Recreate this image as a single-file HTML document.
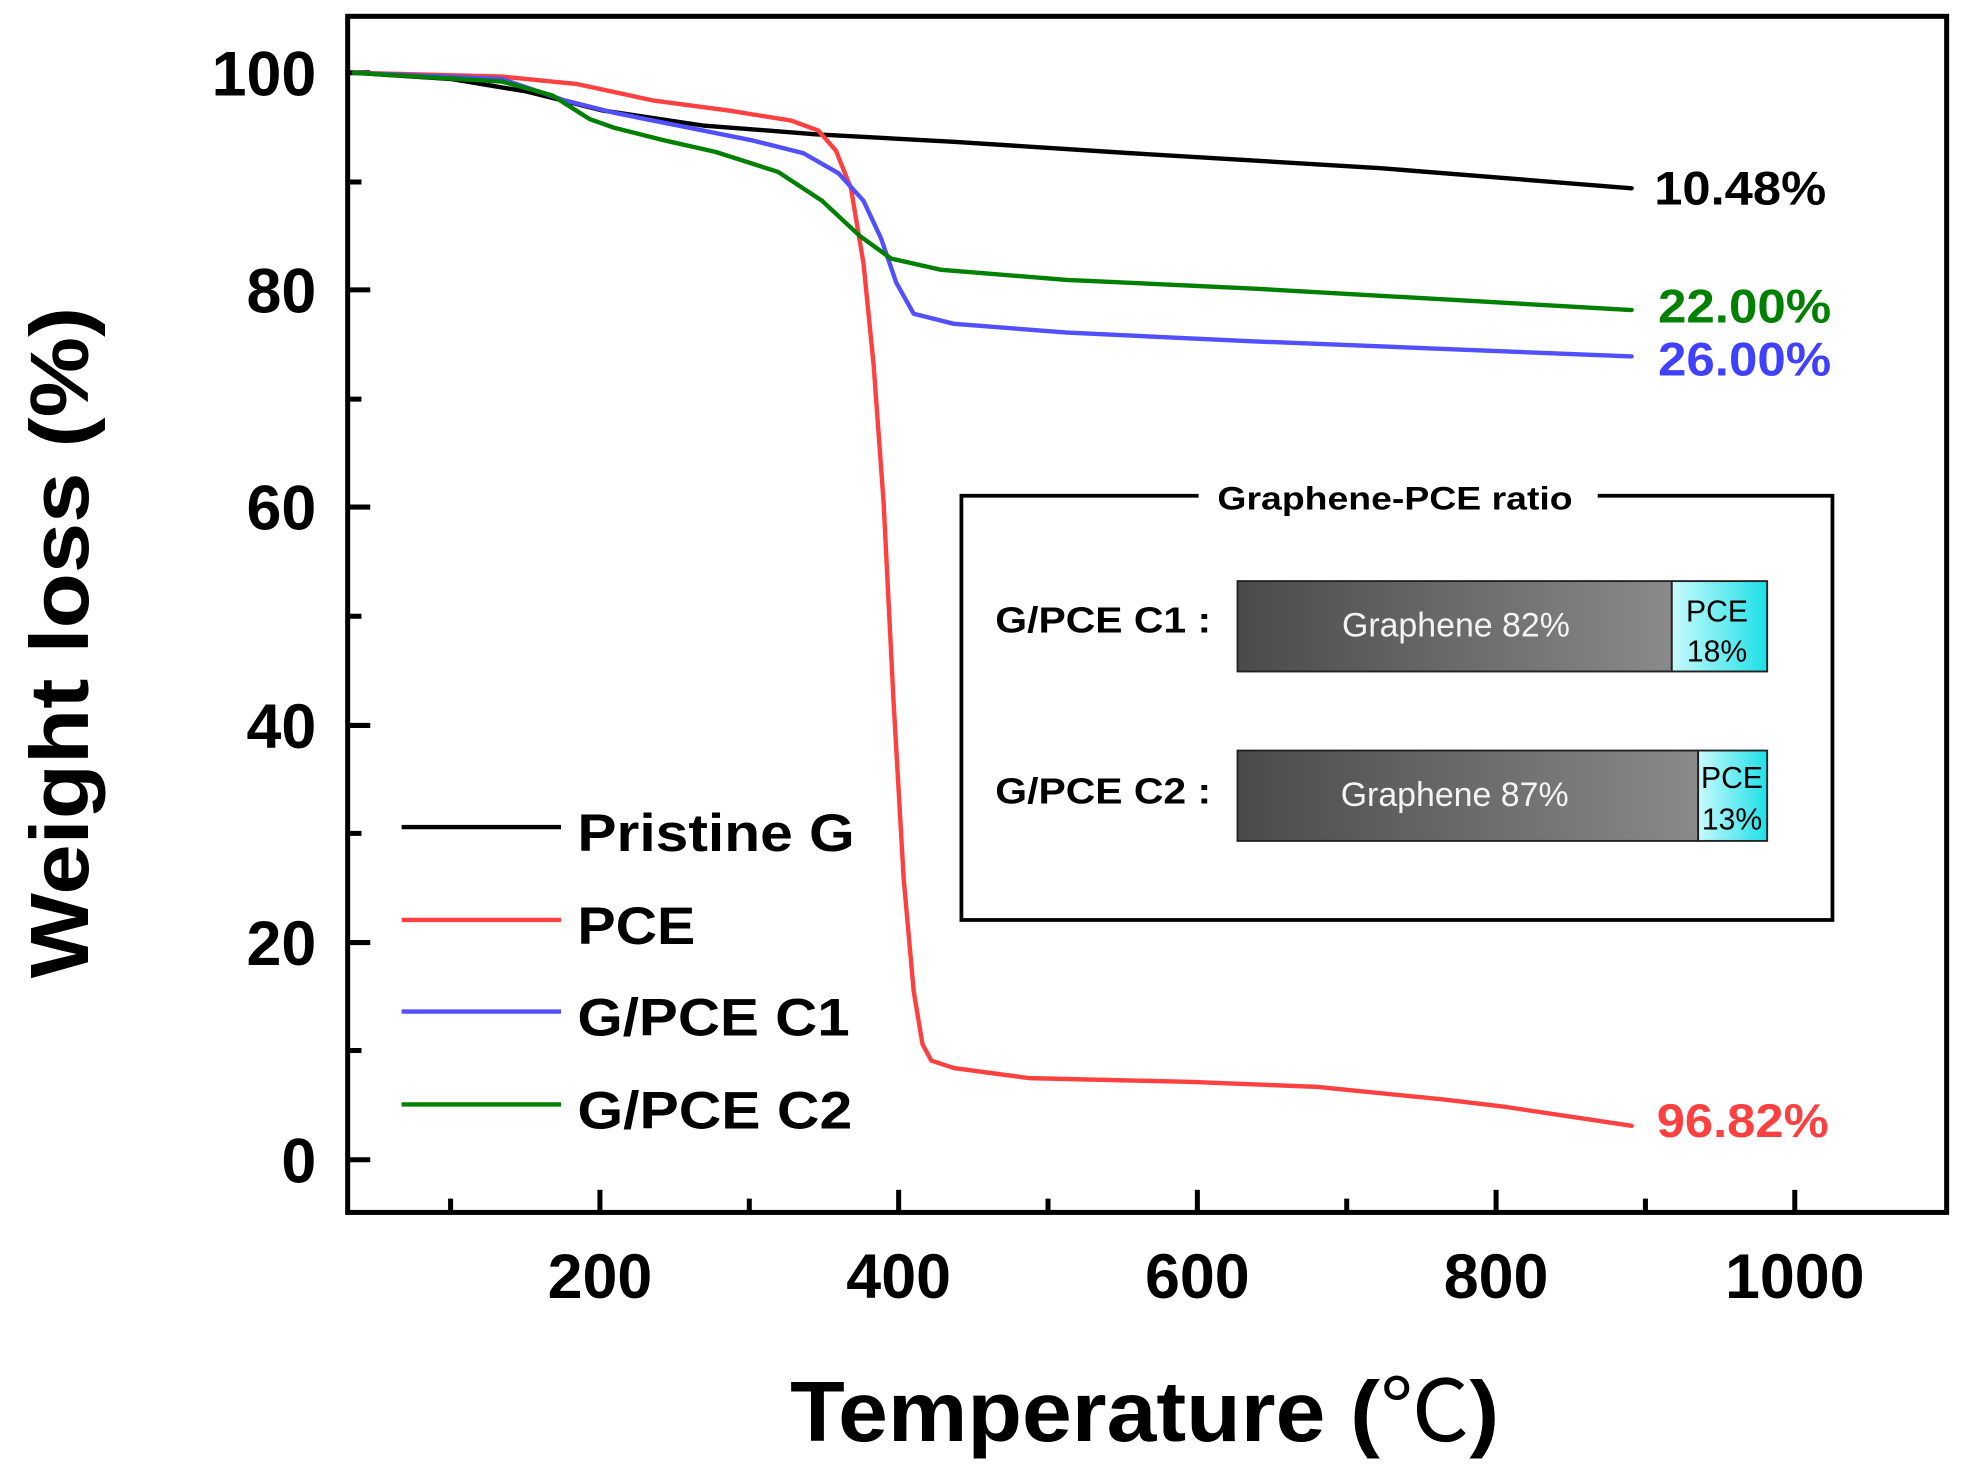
<!DOCTYPE html>
<html><head><meta charset="utf-8"><style>html,body{margin:0;padding:0;background:#fff}svg{display:block}</style></head><body>
<svg width="1968" height="1480" viewBox="0 0 1568 1179.2" xmlns="http://www.w3.org/2000/svg" font-family="'Liberation Sans', 'DejaVu Sans', sans-serif">
<defs>
<linearGradient id="g1" x1="0" x2="1" y1="0" y2="0"><stop offset="0" stop-color="#4a4a4a"/><stop offset="1" stop-color="#8a8a8a"/></linearGradient>
<linearGradient id="c1" x1="0" x2="1" y1="0" y2="0"><stop offset="0" stop-color="#c8fafc"/><stop offset="1" stop-color="#1ee0e8"/></linearGradient>
</defs>
<rect x="0" y="0" width="1568" height="1179.2" fill="#fff"/>
<rect x="277" y="13" width="1274" height="953" fill="none" stroke="#000" stroke-width="4"/>
<g stroke="#000" stroke-width="4">
<line x1="277" y1="58" x2="295" y2="58"/><line x1="277" y1="231" x2="295" y2="231"/><line x1="277" y1="404" x2="295" y2="404"/><line x1="277" y1="578" x2="295" y2="578"/><line x1="277" y1="751" x2="295" y2="751"/><line x1="277" y1="924" x2="295" y2="924"/>
<line x1="277" y1="145" x2="288" y2="145"/><line x1="277" y1="318" x2="288" y2="318"/><line x1="277" y1="491" x2="288" y2="491"/><line x1="277" y1="664" x2="288" y2="664"/><line x1="277" y1="837" x2="288" y2="837"/>
<line x1="478" y1="966" x2="478" y2="948"/><line x1="716" y1="966" x2="716" y2="948"/><line x1="954" y1="966" x2="954" y2="948"/><line x1="1192" y1="966" x2="1192" y2="948"/><line x1="1430" y1="966" x2="1430" y2="948"/>
<line x1="359" y1="966" x2="359" y2="955"/><line x1="597" y1="966" x2="597" y2="955"/><line x1="835" y1="966" x2="835" y2="955"/><line x1="1073" y1="966" x2="1073" y2="955"/><line x1="1311" y1="966" x2="1311" y2="955"/>
</g>
<g font-weight="bold" font-size="50" text-anchor="end" fill="#000">
<text x="252" y="76">100</text><text x="252" y="249">80</text><text x="252" y="422">60</text><text x="252" y="596">40</text><text x="252" y="769">20</text><text x="252" y="942">0</text>
</g>
<g font-weight="bold" font-size="50" text-anchor="middle" fill="#000">
<text x="478" y="1034">200</text><text x="716" y="1034">400</text><text x="954" y="1034">600</text><text x="1192" y="1034">800</text><text x="1430" y="1034">1000</text>
</g>
<text transform="translate(70,512) rotate(-90)" text-anchor="middle" font-weight="bold" font-size="66" textLength="535" lengthAdjust="spacingAndGlyphs">Weight loss (%)</text>
<text x="912" y="1148" text-anchor="middle" font-weight="bold" font-size="68" textLength="565" lengthAdjust="spacingAndGlyphs">Temperature (<tspan font-family="'Noto Sans CJK JP', sans-serif" font-weight="normal">℃</tspan>)</text>
<g fill="none" stroke-width="3.5" stroke-linejoin="round" stroke-linecap="round">
<polyline stroke="#000" points="282,58 360,63 420,73 480,88 560,100 650,107 760,113 900,122 1100,134 1300,150"/>
<polyline stroke="#ff4040" points="282,58 400,61 460,67 520,80 580,88 630,96 652,104 666,120 678,150 688,210 696,290 704,400 712,560 720,700 728,790 735,832 742,845 760,851 820,859 950,862 1050,866 1150,876 1200,882 1300,897"/>
<polyline stroke="#5050ff" points="282,58 400,63 450,80 490,90 540,100 600,112 640,122 668,138 688,160 702,190 714,225 728,250 760,258 850,265 1000,272 1300,284"/>
<polyline stroke="#008000" points="282,58 400,65 440,76 470,95 490,102 530,112 570,121 620,137 655,160 685,188 710,206 750,215 850,223 1000,230 1300,247"/>
</g>
<g font-weight="bold" font-size="38">
<text x="1318" y="163" fill="#000" textLength="137" lengthAdjust="spacingAndGlyphs">10.48%</text>
<text x="1321" y="257" fill="#008000" textLength="138" lengthAdjust="spacingAndGlyphs">22.00%</text>
<text x="1321" y="299" fill="#4040ff" textLength="138" lengthAdjust="spacingAndGlyphs">26.00%</text>
<text x="1320" y="906" fill="#ff4040" textLength="137" lengthAdjust="spacingAndGlyphs">96.82%</text>
</g>
<g stroke-width="3.5">
<line x1="320" y1="659" x2="447" y2="659" stroke="#000"/>
<line x1="320" y1="733" x2="447" y2="733" stroke="#ff4040"/>
<line x1="320" y1="806" x2="447" y2="806" stroke="#5050ff"/>
<line x1="320" y1="880" x2="447" y2="880" stroke="#008000"/>
</g>
<g font-weight="bold" font-size="42">
<text x="460" y="678" textLength="221" lengthAdjust="spacingAndGlyphs">Pristine G</text>
<text x="460" y="752" textLength="94" lengthAdjust="spacingAndGlyphs">PCE</text>
<text x="460" y="825" textLength="217" lengthAdjust="spacingAndGlyphs">G/PCE C1</text>
<text x="460" y="899" textLength="219" lengthAdjust="spacingAndGlyphs">G/PCE C2</text>
</g>
<rect x="766" y="395" width="694" height="338" fill="none" stroke="#000" stroke-width="3"/>
<rect x="955" y="385" width="318" height="22" fill="#fff"/>
<text x="970" y="406" font-weight="bold" font-size="26" textLength="283" lengthAdjust="spacingAndGlyphs">Graphene-PCE ratio</text>
<text x="793" y="504" font-weight="bold" font-size="29" textLength="172" lengthAdjust="spacingAndGlyphs">G/PCE C1 :</text>
<text x="793" y="640" font-weight="bold" font-size="29" textLength="172" lengthAdjust="spacingAndGlyphs">G/PCE C2 :</text>
<rect x="986" y="463" width="346" height="72" fill="url(#g1)" stroke="#222" stroke-width="1.5"/>
<rect x="1332" y="463" width="76" height="72" fill="url(#c1)" stroke="#222" stroke-width="1.5"/>
<rect x="986" y="598" width="367" height="72" fill="url(#g1)" stroke="#222" stroke-width="1.5"/>
<rect x="1353" y="598" width="55" height="72" fill="url(#c1)" stroke="#222" stroke-width="1.5"/>
<g fill="#f4f4f4" font-size="27" text-anchor="middle">
<text x="1160" y="507">Graphene 82%</text><text x="1159" y="642">Graphene 87%</text>
</g>
<g fill="#000" font-size="24" text-anchor="middle">
<text x="1368" y="495">PCE</text><text x="1368" y="527">18%</text>
<text x="1380" y="628">PCE</text><text x="1380" y="661">13%</text>
</g>
</svg>
</body></html>
